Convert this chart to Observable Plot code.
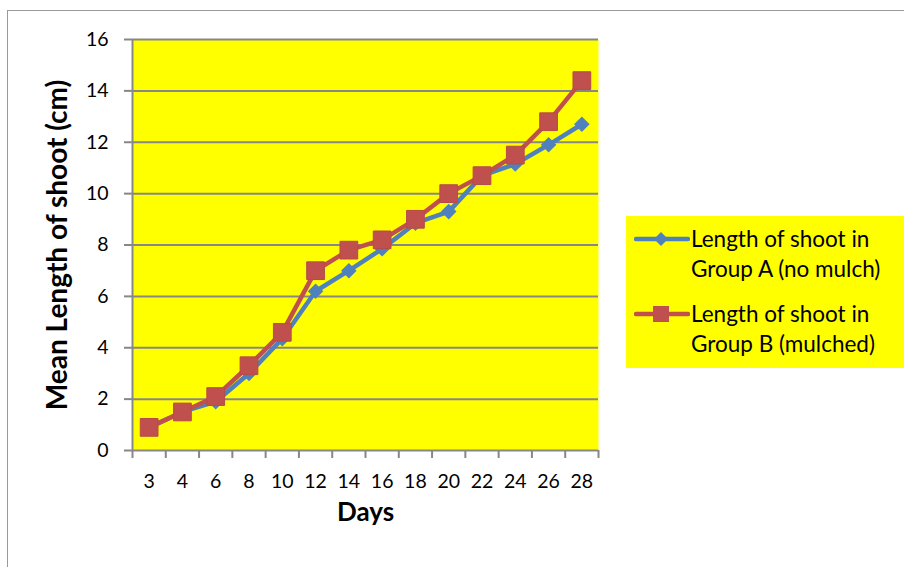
<!DOCTYPE html>
<html><head><meta charset="utf-8">
<script src="https://cdn.jsdelivr.net/npm/d3@7"></script>
<script src="https://cdn.jsdelivr.net/npm/@observablehq/plot@0.6"></script>
<style>
body{margin:0;background:#fff;font-family:Lato,"Open Sans",sans-serif;}
#wrap{position:relative;width:904px;height:567px;overflow:hidden;background:#fff;}
#frame{position:absolute;left:7px;top:10px;width:1000px;height:1000px;border:1.5px solid #9a9a9a;}
#chart{position:absolute;left:0;top:0;}
#legend{position:absolute;left:626px;top:216px;width:278px;height:152px;background:#ffff00;}
.entry{position:absolute;left:0;width:278px;}
.entry svg{position:absolute;left:8px;}
.entry .txt{position:absolute;left:65px;font-size:22.5px;line-height:30px;color:#000;white-space:nowrap;}
</style>
</head><body>
<div id="wrap"><div id="frame"></div><div id="chart"></div><div id="legend"></div></div>
<script>
const days = ["3","4","6","8","10","12","14","16","18","20","22","24","26","28"];
const groupA = [0.9,1.5,1.9,3.0,4.35,6.2,7.0,7.85,8.85,9.3,10.7,11.15,11.9,12.7];
const groupB = [0.9,1.5,2.1,3.3,4.6,7.0,7.8,8.2,9.0,10.0,10.7,11.5,12.8,14.4];
const yTicks = [0,2,4,6,8,10,12,14,16];
const seriesNames = ["Length of shoot in Group A (no mulch)","Length of shoot in Group B (mulched)"];
const legendLines = [["Length of shoot in","Group A (no mulch)"],["Length of shoot in","Group B (mulched)"]];
const colors = ["#4F81BD","#C0504D"];
const yLabel = "Mean Length of shoot (cm)";
const xLabel = "Days";

const rowsA = days.map((d,i)=>({i, day:d, v:groupA[i]}));
const rowsB = days.map((d,i)=>({i, day:d, v:groupB[i]}));
const idx = days.map((d,i)=>i);
const bounds = d3.range(days.length+1).map(k=>k-0.5);
const grid = "#878787";

const chart = Plot.plot({
  width:904, height:567,
  marginLeft:132, marginRight:306, marginTop:39, marginBottom:117,
  style:{background:"transparent", fontFamily:"Lato, 'Open Sans', sans-serif"},
  x:{type:"linear", domain:[-0.5, days.length-0.5], axis:null},
  y:{domain:[0,16], axis:null},
  marks:[
    Plot.frame({fill:"#ffff00", stroke:null}),
    Plot.ruleY(yTicks, {stroke:grid, strokeWidth:2}),
    Plot.ruleX([-0.5], {stroke:grid, strokeWidth:2}),
    Plot.ruleX(bounds, {y1:0, y2:-0.31, stroke:grid, strokeWidth:2}),
    Plot.axisY(yTicks, {tickSize:8, tickPadding:16, fontSize:19.5, stroke:grid, strokeWidth:2, fill:"#000", label:null}),
    Plot.axisX(idx, {tickSize:0, tickPadding:24, fontSize:19.5, fill:"#000", tickFormat:i=>days[i], label:null}),
    Plot.line(rowsA, {x:"i", y:"v", stroke:colors[0], strokeWidth:4.5}),
    Plot.dot(rowsA, {x:"i", y:"v", symbol:"diamond2", r:7, fill:colors[0], stroke:null}),
    Plot.line(rowsB, {x:"i", y:"v", stroke:colors[1], strokeWidth:4.5}),
    Plot.dot(rowsB, {x:"i", y:"v", symbol:"square", r:10, fill:colors[1], stroke:"#b84a47", strokeWidth:1}),
    Plot.text([yLabel], {frameAnchor:"left", textAnchor:"middle", lineAnchor:"middle", dx:-74, rotate:-90, fontSize:28, fontWeight:"bold", fill:"#000"}),
    Plot.text([xLabel], {frameAnchor:"bottom", textAnchor:"middle", lineAnchor:"middle", dy:62, fontSize:26, fontWeight:"bold", fill:"#000"})
  ]
});
document.getElementById("chart").appendChild(chart);

const leg = document.getElementById("legend");
const tops = [8, 83];
seriesNames.forEach((name,k)=>{
  const e = document.createElement("div");
  e.className = "entry";
  e.style.top = tops[k] + "px";
  e.title = name;
  const marker = k===0
    ? `<path d="M27 3 L34 10 L27 17 L20 10 Z" fill="${colors[0]}"/>`
    : `<rect x="19" y="2" width="16" height="16" fill="${colors[1]}"/>`;
  e.innerHTML = `<svg width="56" height="20" style="top:5px"><line x1="2" y1="10" x2="54" y2="10" stroke="${colors[k]}" stroke-width="4.5" stroke-linecap="round"/>${marker}</svg>` +
    `<div class="txt" style="top:0px">${legendLines[k][0]}</div><div class="txt" style="top:30px">${legendLines[k][1]}</div>`;
  leg.appendChild(e);
});
</script>
</body></html>
